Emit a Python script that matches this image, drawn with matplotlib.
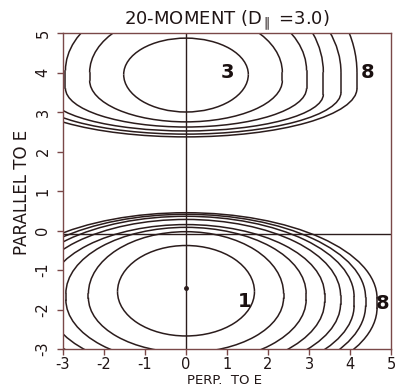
import matplotlib
matplotlib.use("Agg")
import matplotlib.pyplot as plt
from matplotlib.patches import Arc

OUT_FILE = "out.png"
TITLE = r"20-MOMENT (D$_{\parallel}$ =3.0)"

# upper lobe, contour levels 3..8 (half width, flat side top/bottom, y at x=0 top/bottom)
upper_levels = [3, 4, 5, 6, 7, 8]
upper_halfwidth = [1.52, 2.35, 2.94, 3.35, 3.78, 4.17]
upper_side_hi = [3.95, 4.0, 4.05, 4.0, 4.0, 4.0]
upper_side_lo = [3.95, 3.8, 3.6, 3.45, 3.5, 3.6]
upper_top = [4.87, 5.53, 5.98, 6.59, 6.74, 7.36]
upper_bottom = [3.0, 2.75, 2.62, 2.52, 2.44, 2.37]

# lower lobe, contour levels 1..8
lower_levels = [1, 2, 3, 4, 5, 6, 7, 8]
lower_halfwidth = [1.67, 2.38, 2.93, 3.38, 3.77, 4.1, 4.38, 4.66]
lower_side_hi = [-1.55, -1.6, -1.6, -1.62, -1.65, -1.68, -1.7, -1.72]
lower_side_lo = [-1.55, -1.7, -1.75, -1.8, -1.85, -1.9, -1.9, -1.95]
lower_top = [-0.38, -0.03, 0.08, 0.15, 0.28, 0.36, 0.41, 0.45]
lower_bottom = [-2.67, -3.09, -3.37, -3.58, -3.72, -3.87, -4.04, -4.16]

lower_center = (0.0, -1.45)

# contour labels: (text, x, y)
contour_labels = [("3", 1.01, 4.01), ("8", 4.44, 4.01), ("1", 1.44, -1.79), ("8", 4.80, -1.84)]

zero_line_y = -0.08
xticks = [-3, -2, -1, 0, 1, 2, 3, 4, 5]
yticks = [-3, -2, -1, 0, 1, 2, 3, 4, 5]

LINE = "#2b1c1c"
FRAME = "#7a4848"


def draw_loop(ax, a, side_hi, side_lo, top, bottom):
    ax.add_patch(Arc((0, side_hi), 2 * a, 2 * (top - side_hi), theta1=0, theta2=180,
                     color=LINE, lw=1.1))
    ax.add_patch(Arc((0, side_lo), 2 * a, 2 * (side_lo - bottom), theta1=180, theta2=360,
                     color=LINE, lw=1.1))
    if side_hi > side_lo:
        for sx in (-a, a):
            ax.plot([sx, sx], [side_lo, side_hi], color=LINE, lw=1.1)


plt.rcParams["axes.unicode_minus"] = False
fig = plt.figure(figsize=(3.98, 3.88), dpi=100)
ax = fig.add_axes([63 / 398, 1 - 349 / 388, 328 / 398, 316 / 388])

for i in range(len(upper_levels)):
    draw_loop(ax, upper_halfwidth[i], upper_side_hi[i], upper_side_lo[i], upper_top[i], upper_bottom[i])
for i in range(len(lower_levels)):
    draw_loop(ax, lower_halfwidth[i], lower_side_hi[i], lower_side_lo[i], lower_top[i], lower_bottom[i])

ax.axvline(0, color=LINE, lw=1.0)
ax.axhline(zero_line_y, color=LINE, lw=1.0)
ax.plot(*lower_center, "o", color=LINE, ms=2.5)

for txt, x, y in contour_labels:
    ax.text(x, y, txt, ha="center", va="center", fontsize=14, fontweight="bold", color="#1a1010")

ax.set_xlim(-3, 5)
ax.set_ylim(-3, 5)
ax.set_xticks(xticks)
ax.set_yticks(yticks)
ax.tick_params(direction="out", length=4, width=1, color=FRAME, labelsize=10.5, labelcolor="#201515")
ax.tick_params(axis="x", pad=2)
ax.tick_params(axis="y", labelrotation=90, pad=5)
for lbl in ax.get_yticklabels():
    lbl.set_va("center")
for sp in ax.spines.values():
    sp.set_color(FRAME)
    sp.set_linewidth(1.0)

ax.set_title(TITLE, fontsize=13, pad=6, color="#201515")
fig.text(225 / 398, 1 - 387 / 388, "PERP.  TO E", ha="center", va="bottom", fontsize=9.5, color="#201515")
fig.text(22 / 398, 1 - 192 / 388, "PARALLEL TO E", ha="center", va="center", rotation=90,
         fontsize=12, color="#201515")

fig.savefig(OUT_FILE, dpi=100)
